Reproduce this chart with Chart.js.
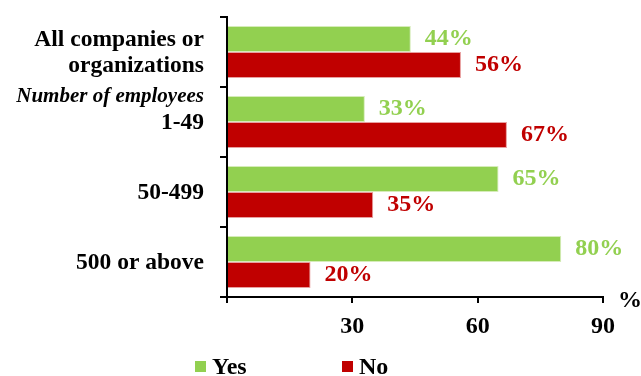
<!DOCTYPE html>
<html>
<head>
<meta charset="utf-8">
<script src="https://cdn.jsdelivr.net/npm/chart.js@4/dist/chart.umd.min.js"></script>
<style>
  html, body { margin: 0; padding: 0; background: #fff; }
  #wrap { width: 641px; height: 376px; }
</style>
</head>
<body>
<div id="wrap"><canvas id="chart"></canvas></div>
<script>
const categories = [['All companies or', 'organizations'], '1-49', '50-499', '500 or above'];
const groupHeading = 'Number of employees';   // shown above the first size band
const groupStart = 1;
const yesValues = [44, 33, 65, 80];
const noValues = [56, 67, 35, 20];
const seriesNames = ['Yes', 'No'];
const xTicks = [0, 30, 60, 90];

const GREEN = '#92D050';
const RED = '#C00000';
const SERIF = '"Liberation Serif", "Times New Roman", serif';

// category labels on the left, drawn by hand so one line can be italic
const yLabels = {
  id: 'yLabels',
  afterDraw(chart) {
    const ctx = chart.ctx;
    const y = chart.scales.y;
    const right = y.right - 23;
    ctx.save();
    ctx.fillStyle = '#000';
    ctx.textAlign = 'right';
    ctx.textBaseline = 'middle';
    chart.data.labels.forEach((lab, i) => {
      const cy = y.getPixelForValue(i) + 1;
      const lines = Array.isArray(lab) ? lab : [lab];
      ctx.font = 'bold 23.5px ' + SERIF;
      lines.forEach((l, k) => {
        ctx.fillText(l, right, cy + (k - (lines.length - 1) / 2) * 26);
      });
      if (i === groupStart) {
        ctx.font = 'italic bold 21px ' + SERIF;
        ctx.fillText(groupHeading, right, cy - 26);
      }
    });
    ctx.restore();
  }
};

// value labels at bar ends, the "%" unit and the legend
const extras = {
  id: 'extras',
  afterDatasetsDraw(chart) {
    const ctx = chart.ctx;
    ctx.save();
    ctx.font = 'bold 24px ' + SERIF;
    ctx.textBaseline = 'middle';
    ctx.textAlign = 'left';
    chart.data.datasets.forEach((ds, di) => {
      chart.getDatasetMeta(di).data.forEach((bar, i) => {
        ctx.fillStyle = ds.backgroundColor;
        ctx.fillText(ds.data[i] + '%', bar.x + 14, bar.y);
      });
    });

    const x = chart.scales.x;
    ctx.fillStyle = '#000';
    ctx.fillText('%', x.right + 15, x.top + 4);

    // legend
    const ly = 366;
    const starts = [195, 342];
    chart.data.datasets.forEach((ds, di) => {
      ctx.fillStyle = ds.backgroundColor;
      ctx.fillRect(starts[di], ly - 5, 11, 11);
      ctx.fillStyle = '#000';
      ctx.fillText(ds.label, starts[di] + 17, ly + 2);
    });
    ctx.restore();
  }
};

new Chart(document.getElementById('chart'), {
  type: 'bar',
  data: {
    labels: categories,
    datasets: [
      { label: seriesNames[0], data: yesValues, backgroundColor: GREEN, borderColor: '#d6ecb9', borderWidth: 1 },
      { label: seriesNames[1], data: noValues, backgroundColor: RED, borderColor: '#e8a0a0', borderWidth: 1 }
    ]
  },
  options: {
    indexAxis: 'y',
    responsive: true,
    maintainAspectRatio: false,
    animation: false,
    categoryPercentage: 0.74,
    barPercentage: 1.0,
    layout: { padding: { top: 17, right: 38, bottom: 36, left: 0 } },
    plugins: {
      legend: { display: false },
      tooltip: { enabled: false }
    },
    scales: {
      x: {
        min: xTicks[0],
        max: xTicks[xTicks.length - 1],
        afterBuildTicks(scale) { scale.ticks = xTicks.map(v => ({ value: v })); },
        grid: { drawOnChartArea: false, drawTicks: true, tickLength: 6, color: '#000', lineWidth: 2 },
        border: { color: '#000', width: 2 },
        ticks: {
          color: '#000',
          padding: 9,
          font: { family: SERIF, size: 24, weight: 'bold' },
          callback: v => (v === 0 ? '' : v)
        },
        afterFit(scale) { scale.height = 43; }
      },
      y: {
        grid: { offset: true, drawOnChartArea: false, drawTicks: true, tickLength: 7, color: '#000', lineWidth: 2 },
        border: { color: '#000', width: 2 },
        ticks: { display: false },
        afterFit(scale) { scale.width = 227; }
      }
    }
  },
  plugins: [yLabels, extras]
});
</script>
</body>
</html>
